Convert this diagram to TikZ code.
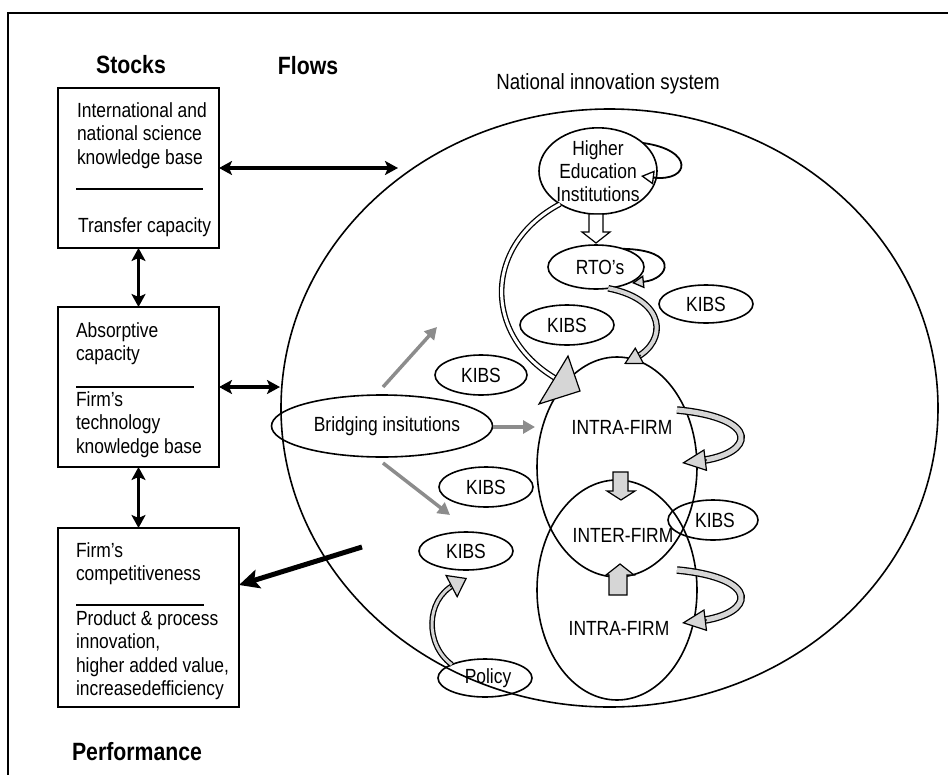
\documentclass[tikz,border=0pt]{standalone}
\usepackage{fontspec}
\setmainfont{Liberation Sans}[FakeStretch=0.85]
\usetikzlibrary{shapes.geometric,arrows.meta,calc}
\definecolor{bandfill}{gray}{0.84}
\definecolor{flowgray}{gray}{0.55}
\begin{document}
\begin{tikzpicture}[x=1pt,y=-1pt,
  every node/.style={inner sep=0pt, outer sep=0pt},
  txt/.style={font=\fontsize{20.5}{23.5}\selectfont, anchor=base west},
  ttl/.style={font=\fontsize{25}{28}\selectfont\bfseries, anchor=base},
  stockbox/.style={draw, rectangle, line width=1.6pt, anchor=north west},
  oval/.style={draw, ellipse, line width=1.6pt, font=\fontsize{20.5}{23}\selectfont},
  divider/.style={line width=1.1pt},
  dbl/.style={line width=3.2pt, {Stealth[length=13pt,width=14pt,inset=3pt]}-{Stealth[length=13pt,width=14pt,inset=3pt]}},
  heavy/.style={line width=5pt, -{Stealth[length=20pt,width=19pt,inset=4pt]}},
  grayflow/.style={flowgray, line width=3.5pt, -{Triangle[length=12pt,width=13pt]}},
  band/.style={line width=1.3pt, double=bandfill, double distance=4pt},
  bandtip/.style={line width=1.2pt, line join=miter},
  blockarr/.style={draw, line width=1.2pt, line join=miter},
]
\useasboundingbox (0,0) rectangle (948,774);

% frame
\draw[line width=2.5pt] (8,780) -- (8,13) -- (955,13);

% titles
\node[ttl] (stocks) at (131,73) {Stocks};
\node[ttl] (flows) at (308,74) {Flows};
\node[ttl] (perf) at (137,760) {Performance};
\node[font=\fontsize{22}{24}\selectfont, anchor=base] (nistitle) at (608,89) {National innovation system};

% stock boxes
\node[stockbox, minimum width=161pt, minimum height=160pt] (s1) at (58,88) {};
\node[stockbox, minimum width=161pt, minimum height=160pt] (s2) at (58,307) {};
\node[stockbox, minimum width=181pt, minimum height=179pt] (s3) at (58,528) {};

\node[txt] (s1a) at (77,117) {International and};
\node[txt] (s1b) at (77,140.5) {national science};
\node[txt] (s1c) at (77,164) {knowledge base};
\draw[divider] (76,189) -- (203,189);
\node[txt] (s1d) at (78,232) {Transfer capacity};

\node[txt] (s2a) at (76,337.5) {Absorptive};
\node[txt] (s2b) at (76,360.5) {capacity};
\draw[divider] (76,387) -- (194,387);
\node[txt] (s2c) at (76,406) {Firm's};
\node[txt] (s2d) at (76,429.5) {technology};
\node[txt] (s2e) at (76,453) {knowledge base};

\node[txt] (s3a) at (76,557) {Firm's};
\node[txt] (s3b) at (76,580.5) {competitiveness};
\draw[divider] (76,605) -- (204,605);
\node[txt] (s3c) at (76,625) {Product \& process};
\node[txt] (s3d) at (76,648.5) {innovation,};
\node[txt] (s3e) at (76,672) {higher added value,};
\node[txt] (s3f) at (76,695.5) {increasedefficiency};

% national innovation system
\node[draw, ellipse, line width=1.6pt, minimum width=657pt, minimum height=598pt] (nis) at (609.5,408) {};

\node[oval, minimum width=118pt, minimum height=86pt, align=center] (hei) at (598,171) {Higher\\Education\\Institutions};
\node[oval, minimum width=96pt, minimum height=44pt] (rto) at (596,267) {\hspace{8pt}RTO's};
\node[oval, minimum width=94pt, minimum height=38pt] (kibsA) at (706,304) {KIBS};
\node[oval, minimum width=94pt, minimum height=40pt] (kibsB) at (567,325) {KIBS};
\node[oval, minimum width=92pt, minimum height=40pt] (kibsC) at (481,375) {KIBS};
\node[oval, minimum width=94pt, minimum height=40pt] (kibsD) at (486,487) {KIBS};
\node[oval, minimum width=94pt, minimum height=38pt] (kibsE) at (466,551) {KIBS};
\node[oval, minimum width=90pt, minimum height=40pt] (kibsF) at (713,520) {\hspace{4pt}KIBS};
\node[oval, minimum width=200pt, minimum height=62pt] (bridge) at (382,426) {\hspace{10pt}Bridging insitutions};
\node[oval, minimum width=94pt, minimum height=38pt] (policy) at (485,678) {\hspace{6pt}Policy};

\node[draw, ellipse, line width=1.6pt, minimum width=160pt, minimum height=220pt] (intraU) at (617,467) {};
\node[draw, ellipse, line width=1.6pt, minimum width=160pt, minimum height=220pt] (intraL) at (617,590) {};
\node[font=\fontsize{20.5}{23}\selectfont] (intraUt) at (622,427) {INTRA-FIRM};
\node[font=\fontsize{20.5}{23}\selectfont] (intert) at (623,535) {INTER-FIRM};
\node[font=\fontsize{20.5}{23}\selectfont] (intraLt) at (619,628) {INTRA-FIRM};

% stock links
\coordinate (nisA) at (398,168);
\coordinate (nisB) at (280,387);
\draw[dbl] (s1.east) -- (nisA);
\draw[dbl] (s2.east) -- (nisB);
\draw[dbl] (s1.south) -- (s2.north);
\draw[dbl] (s2.south) -- (s2.south |- s3.north);
\coordinate (perfsrc) at (362,547);
\draw[heavy] (perfsrc) -- ([yshift=-57pt]s3.north east);

% bridging flows
\coordinate (gUa) at (383,387); \coordinate (gUb) at (437,327);
\coordinate (gRa) at (493,427); \coordinate (gRb) at (535,427);
\coordinate (gDa) at (383,463); \coordinate (gDb) at (450,515);
\draw[grayflow] (gUa) -- (gUb);
\draw[grayflow] (gRa) -- (gRb);
\draw[grayflow] (gDa) -- (gDb);

% self loops
\draw[line width=1.8pt, -{Triangle[length=13pt,width=14pt,fill=white,line width=1.3pt]}]
  (hei.32) .. controls (695,150) and (690,182) .. (641,176);
\draw[line width=1.8pt, -{Triangle[length=12pt,width=13pt,fill=bandfill,line width=1.3pt]}]
  (rto.34) .. controls (680,250) and (670,279) .. (632,283);

% HEI to RTO
\draw[blockarr, fill=white] (589,214) -- (603,214) -- (603,232) -- (610,232) -- (596,243) -- (582,232) -- (589,232) -- cycle;

% HEI to firms
\coordinate (heiEnd) at (555,378);
\draw[band, double=white, double distance=3pt] (hei.221) .. controls (483,245) and (483,335) .. (heiEnd);
\draw[blockarr, fill=bandfill] (568,356) -- (580,391) -- (539,404) -- cycle;

% RTO to firms
\coordinate (rtoTip) at (624,364);
\coordinate (rtoC) at (667,341);
\draw[band, shorten >=14pt] (rto.300) .. controls (667,300) and (rtoC) .. (rtoTip);
\draw[bandtip, -{Triangle[length=18pt,width=19pt,fill=bandfill]}] ($(rtoTip)!19pt!(rtoC)$) -- (rtoTip);

% intra-firm loops
\coordinate (loopUa) at (677,410); \coordinate (loopUb) at (682,463); \coordinate (loopUc) at (755,454);
\coordinate (loopLa) at (677,570); \coordinate (loopLb) at (682,623); \coordinate (loopLc) at (755,614);
\draw[band, double distance=5pt, shorten >=18pt] (loopUa) .. controls (762,418) and (loopUc) .. (loopUb);
\draw[bandtip, -{Triangle[length=24pt,width=22pt,fill=bandfill]}] ($(loopUb)!25pt!(loopUc)$) -- (loopUb);
\draw[band, double distance=5pt, shorten >=18pt] (loopLa) .. controls (762,578) and (loopLc) .. (loopLb);
\draw[bandtip, -{Triangle[length=24pt,width=22pt,fill=bandfill]}] ($(loopLb)!25pt!(loopLc)$) -- (loopLb);

% inter-firm exchanges
\draw[blockarr, fill=bandfill] (613,472) -- (628,472) -- (628,491) -- (635,491) -- (621,500) -- (607,491) -- (613,491) -- cycle;
\draw[blockarr, fill=bandfill] (620,564) -- (634,575) -- (627,575) -- (627,595) -- (609,595) -- (609,575) -- (606,575) -- cycle;

% policy to KIBS
\coordinate (polTip) at (467,578);
\coordinate (polC) at (425,600);
\draw[band, double distance=3pt, shorten >=14pt] (policy.158) .. controls (425,645) and (polC) .. (polTip);
\draw[bandtip, -{Triangle[length=18pt,width=26pt,fill=bandfill]}] ($(polTip)!19pt!(polC)$) -- (polTip);

\end{tikzpicture}
\end{document}
